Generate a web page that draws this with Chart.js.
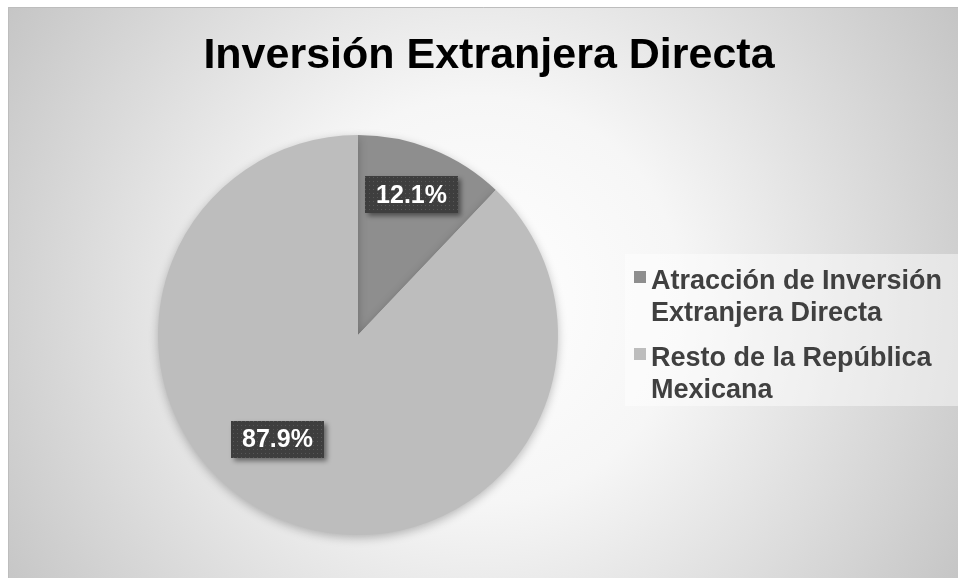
<!DOCTYPE html>
<html>
<head>
<meta charset="utf-8">
<script src="https://cdn.jsdelivr.net/npm/chart.js@4.4.1/dist/chart.umd.min.js"></script>
<style>
  html, body { margin: 0; padding: 0; background: #ffffff; }
  #chart { display: block; }
</style>
</head>
<body>
<canvas id="chart" width="958" height="578"></canvas>
<script>
// chart data
var titleText = 'Inversión Extranjera Directa';
var categories = ['Atracción de Inversión Extranjera Directa', 'Resto de la República Mexicana'];
var legendLines = [['Atracción de Inversión', 'Extranjera Directa'], ['Resto de la República', 'Mexicana']];
var values = [12.1, 87.9];
var valueLabels = ['12.1%', '87.9%'];
var sliceColors = ['#8e8e8e', '#bdbdbd'];

// where the value box sits inside each slice (fraction of angle, fraction of radius)
var labelAngleFrac = [0.48, 0.55];
var labelRadiusFrac = [0.75, 0.66];

// dotted fill for the label boxes
function makeDots() {
    var c = document.createElement('canvas');
    c.width = 4; c.height = 4;
    var g = c.getContext('2d');
    g.fillStyle = '#3e3e3e';
    g.fillRect(0, 0, 4, 4);
    g.fillStyle = '#575757';
    g.fillRect(1, 1, 1, 1);
    return c;
}

var backgroundPlugin = {
    id: 'frameBackground',
    beforeDraw: function (chart) {
        var ctx = chart.ctx;
        ctx.save();
        ctx.fillStyle = '#ffffff';
        ctx.fillRect(0, 0, chart.width, chart.height);
        var grad = ctx.createRadialGradient(480, 300, 0, 480, 300, 580);
        grad.addColorStop(0, '#ffffff');
        grad.addColorStop(0.35, '#f6f6f6');
        grad.addColorStop(1, '#c2c2c2');
        ctx.fillStyle = grad;
        ctx.fillRect(8, 7, chart.width - 8, chart.height - 7);
        ctx.strokeStyle = '#bdbdbd';
        ctx.lineWidth = 1;
        ctx.beginPath();
        ctx.moveTo(8.5, chart.height);
        ctx.lineTo(8.5, 7.5);
        ctx.lineTo(chart.width, 7.5);
        ctx.stroke();

        // title
        ctx.fillStyle = '#000000';
        ctx.font = 'bold 43px "Liberation Sans", Arial, sans-serif';
        ctx.textAlign = 'center';
        ctx.textBaseline = 'alphabetic';
        ctx.fillText(titleText, 489, 68);

        // legend panel
        ctx.fillStyle = 'rgba(255,255,255,0.45)';
        ctx.fillRect(625, 254, 333, 152);
        ctx.restore();
    },
    beforeDatasetsDraw: function (chart) {
        var ctx = chart.ctx;
        ctx.save();
        ctx.shadowColor = 'rgba(0,0,0,0.25)';
        ctx.shadowBlur = 10;
        ctx.shadowOffsetY = 3;
    },
    afterDatasetsDraw: function (chart) {
        chart.ctx.restore();
    }
};

var labelPlugin = {
    id: 'valueBoxes',
    afterDatasetsDraw: function (chart) {
        var ctx = chart.ctx;
        var meta = chart.getDatasetMeta(0);
        var pattern = ctx.createPattern(makeDots(), 'repeat');
        meta.data.forEach(function (arc, i) {
            var p = arc.getProps(['x', 'y', 'startAngle', 'endAngle', 'outerRadius'], true);
            var a = p.startAngle + (p.endAngle - p.startAngle) * labelAngleFrac[i];
            var r = p.outerRadius * labelRadiusFrac[i];
            var cx = p.x + Math.cos(a) * r;
            var cy = p.y + Math.sin(a) * r;
            ctx.save();
            ctx.font = 'bold 25px "Liberation Sans", Arial, sans-serif';
            var w = ctx.measureText(valueLabels[i]).width + 22;
            var h = 37;
            ctx.shadowColor = 'rgba(0,0,0,0.45)';
            ctx.shadowBlur = 5;
            ctx.shadowOffsetX = 3;
            ctx.shadowOffsetY = 3;
            ctx.fillStyle = pattern;
            ctx.fillRect(Math.round(cx - w / 2), Math.round(cy - h / 2), Math.round(w), h);
            ctx.shadowColor = 'transparent';
            ctx.fillStyle = '#ffffff';
            ctx.textAlign = 'center';
            ctx.textBaseline = 'middle';
            ctx.fillText(valueLabels[i], cx, cy + 1);
            ctx.restore();
        });

        // legend
        ctx.save();
        ctx.font = 'bold 27px "Liberation Sans", Arial, sans-serif';
        ctx.textAlign = 'left';
        ctx.textBaseline = 'alphabetic';
        var y = 289;
        legendLines.forEach(function (lines, i) {
            ctx.fillStyle = sliceColors[i];
            ctx.fillRect(634, y - 18, 12, 12);
            ctx.fillStyle = '#404040';
            lines.forEach(function (line, j) {
                ctx.fillText(line, 651, y + j * 32);
            });
            y += 77;
        });
        ctx.restore();
    }
};

var ctx = document.getElementById('chart').getContext('2d');
var myPieChart = new Chart(ctx, {
    type: 'pie',
    data: {
        labels: categories,
        datasets: [{
            data: values,
            backgroundColor: sliceColors,
            borderWidth: 0
        }]
    },
    options: {
        responsive: false,
        animation: false,
        layout: {
            padding: { left: 158, right: 400, top: 135, bottom: 43 }
        },
        plugins: {
            legend: { display: false },
            title: { display: false },
            tooltip: { enabled: false }
        }
    },
    plugins: [backgroundPlugin, labelPlugin]
});
</script>
</body>
</html>
